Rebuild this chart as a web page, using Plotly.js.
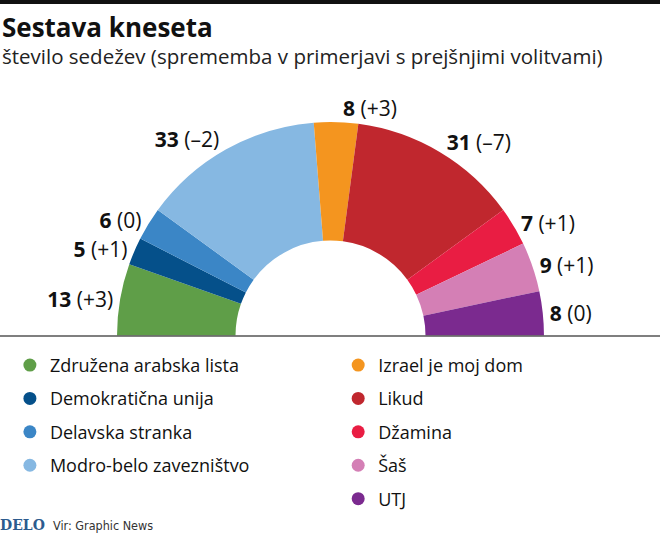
<!DOCTYPE html>
<html>
<head>
<meta charset="utf-8">
<script src="https://cdn.plot.ly/plotly-3.0.1.min.js"></script>
<style>
html, body { margin: 0; padding: 0; overflow: hidden; background: #fff; }
#chart { width: 660px; height: 560px; }
</style>
</head>
<body>
<div id="chart"></div>
<script>
const parties = ["Združena arabska lista", "Demokratična unija", "Delavska stranka", "Modro-belo zavezništvo", "Izrael je moj dom", "Likud", "Džamina", "Šaš", "UTJ"];
const seats = [13, 5, 6, 33, 8, 31, 7, 9, 8];
const changes = ["+3", "+1", "0", "–2", "+3", "–7", "+1", "+1", "0"];
const colors = ["#5f9e48", "#05508a", "#3b86c6", "#86b8e2", "#f4951f", "#c0272e", "#e91d43", "#d47fb5", "#7b2a8f"];

const FONT = "Open Sans, Noto Sans, sans-serif";
const totalSeats = seats.reduce((a, b) => a + b, 0);

// semicircle: add an invisible half equal to total seats
const pieValues = seats.concat([totalSeats]);
const pieColors = colors.concat(["rgba(0,0,0,0)"]);
const pieText = seats.map((s, i) => "<b>" + s + "</b> (" + changes[i] + ")").concat([""]);

const traces = [{
  type: "pie",
  values: pieValues,
  labels: parties.concat(["_rest"]),
  text: pieText,
  textinfo: "text",
  textposition: "outside",
  textfont: { family: FONT, size: 21, color: "#111" },
  marker: { colors: pieColors, line: { width: 0 } },
  sort: false,
  direction: "clockwise",
  rotation: 270,
  hole: 0.445,
  showlegend: false,
  hoverinfo: "none",
  domain: { x: [0.1773, 0.8242], y: [0.0196, 0.7821] }
}];

parties.forEach((p, i) => {
  traces.push({
    type: "scatter",
    mode: "markers",
    x: [null], y: [null],
    name: p,
    legendgroup: "g" + i,
    legend: i < 4 ? "legend" : "legend2",
    marker: { color: colors[i], size: 13, symbol: "circle" },
    hoverinfo: "none"
  });
});

const legendCommon = {
  yanchor: "top", xanchor: "left",
  font: { family: FONT, size: 18, color: "#111" },
  bgcolor: "rgba(0,0,0,0)",
  traceorder: "grouped",
  tracegroupgap: 7,
  itemwidth: 30
};

const layout = {
  width: 660, height: 560,
  margin: { l: 0, r: 0, t: 0, b: 0 },
  paper_bgcolor: "#fff", plot_bgcolor: "#fff",
  title: {
    text: "<b>Sestava kneseta</b>",
    font: { family: FONT, size: 26, color: "#111" },
    x: 0.003, xanchor: "left", xref: "paper",
    y: 0.966, yanchor: "top", yref: "container"
  },
  xaxis: { visible: false, domain: [0, 0.01] },
  yaxis: { visible: false, domain: [0, 0.01] },
  legend: Object.assign({ x: 0.015, y: 0.3806 }, legendCommon),
  legend2: Object.assign({ x: 0.5124, y: 0.3806 }, legendCommon),
  shapes: [
    { type: "rect", xref: "paper", yref: "paper", x0: 0, x1: 1, y0: 0.9929, y1: 1.0, fillcolor: "#111", line: { width: 0 } },
    { type: "line", xref: "paper", yref: "paper", x0: 0, x1: 1, y0: 0.4, y1: 0.4, line: { color: "#555", width: 1.5 } }
  ],
  annotations: [
    { text: "število sedežev (sprememba v primerjavi s prejšnjimi volitvami)", xref: "paper", yref: "paper", x: 0, y: 0.9, xanchor: "left", yanchor: "middle", showarrow: false, font: { family: FONT, size: 20.5, color: "#222" } },
    { text: "<b>DELO</b>", xref: "paper", yref: "paper", x: -0.003, y: 0.0625, xanchor: "left", yanchor: "middle", showarrow: false, font: { family: "DejaVu Serif, Liberation Serif, serif", size: 14, color: "#2c5b8e" } },
    { text: "Vir: Graphic News", xref: "paper", yref: "paper", x: 0.078, y: 0.0625, xanchor: "left", yanchor: "middle", showarrow: false, font: { family: "DejaVu Sans Condensed, Liberation Sans Narrow, sans-serif", size: 12.5, color: "#333" } }
  ]
};

Plotly.newPlot("chart", traces, layout, { displayModeBar: false, staticPlot: true });
</script>
</body>
</html>
